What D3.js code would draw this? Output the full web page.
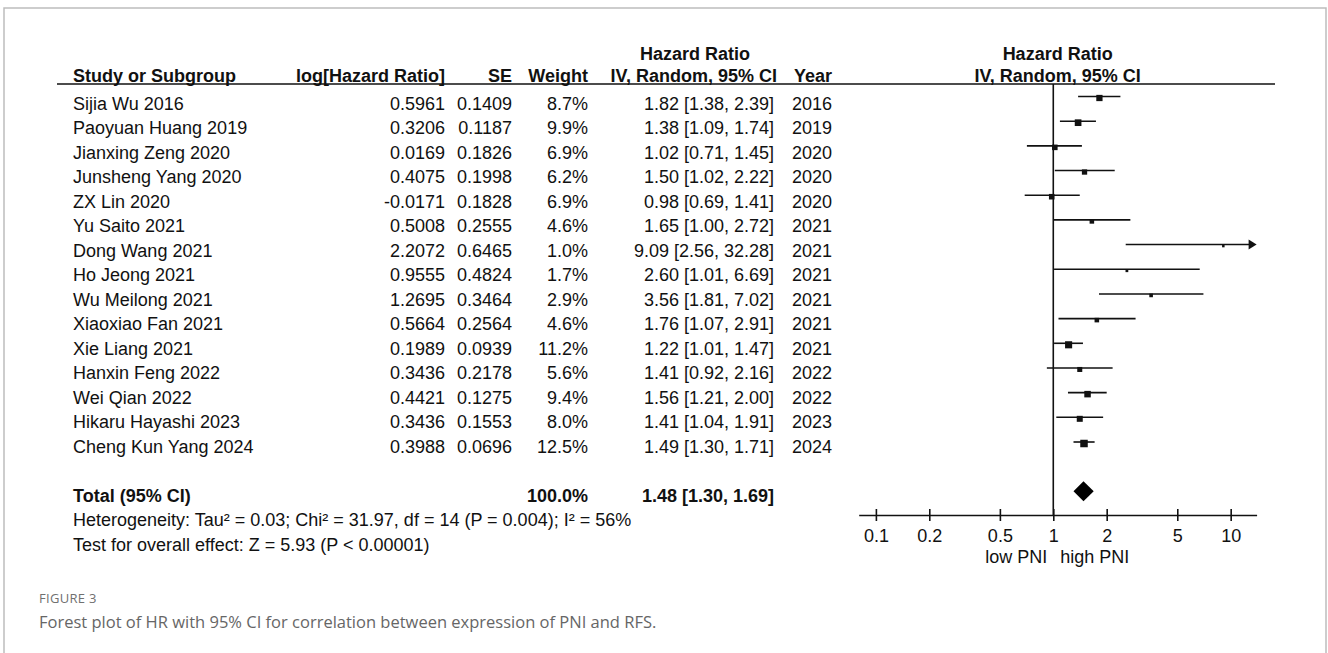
<!DOCTYPE html>
<html>
<head>
<meta charset="utf-8">
<script src="https://cdn.jsdelivr.net/npm/d3@7"></script>
<style>
  body { margin: 0; background: #fff; }
  svg { display: block; }
  text { font-family: "Liberation Sans", Arial, sans-serif; font-size: 18px; fill: #111; }
</style>
</head>
<body>
<svg id="chart" width="1328" height="653"></svg>
<script>
var studies = ["Sijia Wu 2016", "Paoyuan Huang 2019", "Jianxing Zeng 2020", "Junsheng Yang 2020",
  "ZX Lin 2020", "Yu Saito 2021", "Dong Wang 2021", "Ho Jeong 2021", "Wu Meilong 2021",
  "Xiaoxiao Fan 2021", "Xie Liang 2021", "Hanxin Feng 2022", "Wei Qian 2022",
  "Hikaru Hayashi 2023", "Cheng Kun Yang 2024"];
var logHR = [0.5961, 0.3206, 0.0169, 0.4075, -0.0171, 0.5008, 2.2072, 0.9555, 1.2695,
  0.5664, 0.1989, 0.3436, 0.4421, 0.3436, 0.3988];
var seVals = [0.1409, 0.1187, 0.1826, 0.1998, 0.1828, 0.2555, 0.6465, 0.4824, 0.3464,
  0.2564, 0.0939, 0.2178, 0.1275, 0.1553, 0.0696];
var weights = [8.7, 9.9, 6.9, 6.2, 6.9, 4.6, 1.0, 1.7, 2.9, 4.6, 11.2, 5.6, 9.4, 8.0, 12.5];
var hr = [1.82, 1.38, 1.02, 1.50, 0.98, 1.65, 9.09, 2.60, 3.56, 1.76, 1.22, 1.41, 1.56, 1.41, 1.49];
var ciLow = [1.38, 1.09, 0.71, 1.02, 0.69, 1.00, 2.56, 1.01, 1.81, 1.07, 1.01, 0.92, 1.21, 1.04, 1.30];
var ciHigh = [2.39, 1.74, 1.45, 2.22, 1.41, 2.72, 32.28, 6.69, 7.02, 2.91, 1.47, 2.16, 2.00, 1.91, 1.71];
var years = [2016, 2019, 2020, 2020, 2020, 2021, 2021, 2021, 2021, 2021, 2021, 2022, 2022, 2023, 2024];

var totalWeight = 100.0;
var totalHR = [1.48, 1.30, 1.69]; // estimate, lower, upper
var axisTicks = [0.1, 0.2, 0.5, 1, 2, 5, 10];
var heterogeneityText = "Heterogeneity: Tau\u00b2 = 0.03; Chi\u00b2 = 31.97, df = 14 (P = 0.004); I\u00b2 = 56%";
var overallText = "Test for overall effect: Z = 5.93 (P < 0.00001)";

var svg = d3.select("#chart");

function f2(v) { return v.toFixed(2); }
function f4(v) { return v.toFixed(4); }
function ciText(e, l, u) { return f2(e) + " [" + f2(l) + ", " + f2(u) + "]"; }

// light grey figure frame
svg.append("path")
  .attr("d", "M4,653 V8 H1326 V653")
  .attr("fill", "none").attr("stroke", "#bdbdbd").attr("stroke-width", 1.5);

// rows: text grid and forest grid
var rowY = d3.scaleLinear().domain([0, 14]).range([103, 446]);
var plotY = d3.scaleLinear().domain([0, 14]).range([96.5, 442]);
var step = rowY(1) - rowY(0);

// column positions
var col = { study: 73, est: 445, se: 512, wt: 588, ci: 774, yr: 832 };

var head1 = 60, head2 = 82;
svg.append("text").attr("x", 695).attr("y", head1).attr("text-anchor", "middle")
  .attr("font-weight", "bold").text("Hazard Ratio");
var h2 = [
  { t: "Study or Subgroup", x: col.study, a: "start" },
  { t: "log[Hazard Ratio]", x: col.est, a: "end" },
  { t: "SE", x: col.se, a: "end" },
  { t: "Weight", x: col.wt, a: "end" },
  { t: "IV, Random, 95% CI", x: 777, a: "end" },
  { t: "Year", x: col.yr, a: "end" }
];
svg.selectAll(".h2").data(h2).enter().append("text")
  .attr("x", d => d.x).attr("y", head2).attr("text-anchor", d => d.a)
  .attr("font-weight", "bold").text(d => d.t);

// forest scale
var x = d3.scaleLog().domain([0.08, 14]).range([858.7, 1256.6]);
var xMid = (x.range()[0] + x.range()[1]) / 2;
svg.append("text").attr("x", xMid).attr("y", head1).attr("text-anchor", "middle")
  .attr("font-weight", "bold").text("Hazard Ratio");
svg.append("text").attr("x", xMid).attr("y", head2).attr("text-anchor", "middle")
  .attr("font-weight", "bold").text("IV, Random, 95% CI");

svg.append("line").attr("x1", 57).attr("x2", 1275).attr("y1", 84).attr("y2", 84)
  .attr("stroke", "#111").attr("stroke-width", 1.6);

// table rows
var rows = svg.selectAll(".row").data(studies).enter().append("g")
  .attr("transform", (d, i) => "translate(0," + (rowY(i) + 6.5) + ")");
rows.append("text").attr("x", col.study).text(d => d);
rows.append("text").attr("x", col.est).attr("text-anchor", "end").text((d, i) => f4(logHR[i]));
rows.append("text").attr("x", col.se).attr("text-anchor", "end").text((d, i) => f4(seVals[i]));
rows.append("text").attr("x", col.wt).attr("text-anchor", "end").text((d, i) => weights[i].toFixed(1) + "%");
rows.append("text").attr("x", col.ci).attr("text-anchor", "end").text((d, i) => ciText(hr[i], ciLow[i], ciHigh[i]));
rows.append("text").attr("x", col.yr).attr("text-anchor", "end").text((d, i) => years[i]);

// total + footnotes
var totY = rowY(14) + 2 * step + 6.5;
svg.append("text").attr("x", col.study).attr("y", totY).attr("font-weight", "bold").text("Total (95% CI)");
svg.append("text").attr("x", col.wt).attr("y", totY).attr("text-anchor", "end")
  .attr("font-weight", "bold").text(totalWeight.toFixed(1) + "%");
svg.append("text").attr("x", col.ci).attr("y", totY).attr("text-anchor", "end")
  .attr("font-weight", "bold").text(ciText(totalHR[0], totalHR[1], totalHR[2]));
svg.append("text").attr("x", col.study).attr("y", totY + step).text(heterogeneityText);
svg.append("text").attr("x", col.study).attr("y", totY + 2 * step).text(overallText);

// forest plot
var axisY = 515;
var sq = d3.scaleSqrt().domain([0, 12.5]).range([0, 7.5]);

svg.append("line").attr("x1", x(1)).attr("x2", x(1)).attr("y1", 84).attr("y2", axisY)
  .attr("stroke", "#111").attr("stroke-width", 1.6);

var marks = svg.selectAll(".mark").data(studies).enter().append("g")
  .attr("transform", (d, i) => "translate(0," + plotY(i) + ")");
var xMax = x.domain()[1];
marks.append("line")
  .attr("x1", (d, i) => x(ciLow[i]))
  .attr("x2", (d, i) => ciHigh[i] > xMax ? x.range()[1] - 7 : x(ciHigh[i]))
  .attr("stroke", "#111").attr("stroke-width", 1.6);
marks.filter((d, i) => ciHigh[i] > xMax).append("path")
  .attr("d", "M" + (x.range()[1] - 8) + ",-5 L" + x.range()[1] + ",0 L" + (x.range()[1] - 8) + ",5 Z")
  .attr("fill", "#111");
marks.append("rect")
  .attr("x", (d, i) => x(hr[i]) - Math.max(2.5, sq(weights[i])) / 2)
  .attr("y", (d, i) => 1.5 - Math.max(2.5, sq(weights[i])) / 2)
  .attr("width", (d, i) => Math.max(2.5, sq(weights[i])))
  .attr("height", (d, i) => Math.max(2.5, sq(weights[i])))
  .attr("fill", "#111");

var dY = plotY(14) + 2 * (plotY(1) - plotY(0));
svg.append("path")
  .attr("d", "M" + x(totalHR[1]) + "," + dY + " L" + x(totalHR[0]) + "," + (dY - 10) +
    " L" + x(totalHR[2]) + "," + dY + " L" + x(totalHR[0]) + "," + (dY + 10) + " Z")
  .attr("fill", "#000");

var axis = d3.axisBottom(x).tickValues(axisTicks).tickFormat(d3.format("")).tickSize(6).tickSizeOuter(0);
var ag = svg.append("g").attr("transform", "translate(0," + axisY + ")").call(axis);
ag.attr("font-family", null).attr("font-size", null);
ag.select(".domain").attr("stroke", "#111").attr("stroke-width", 1.6);
ag.selectAll(".tick line").attr("y1", -6).attr("y2", 6).attr("stroke", "#111").attr("stroke-width", 1.6);
ag.selectAll(".tick text").attr("y", 21).attr("dy", "0.35em").style("fill", "#111");

svg.append("text").attr("x", x(1) - 6).attr("y", 557).attr("dy", "0.35em")
  .attr("text-anchor", "end").text("low PNI");
svg.append("text").attr("x", x(1) + 7).attr("y", 557).attr("dy", "0.35em").text("high PNI");

// caption
svg.append("text").attr("x", 39).attr("y", 603)
  .style("font-family", "'Open Sans', 'Noto Sans', sans-serif").style("font-size", "13px")
  .style("fill", "#707070").style("letter-spacing", "0.3px").text("FIGURE 3");
svg.append("text").attr("x", 39).attr("y", 628)
  .style("font-family", "'Open Sans', 'Noto Sans', sans-serif").style("font-size", "16.5px")
  .style("fill", "#666").text("Forest plot of HR with 95% CI for correlation between expression of PNI and RFS.");
</script>
</body>
</html>
